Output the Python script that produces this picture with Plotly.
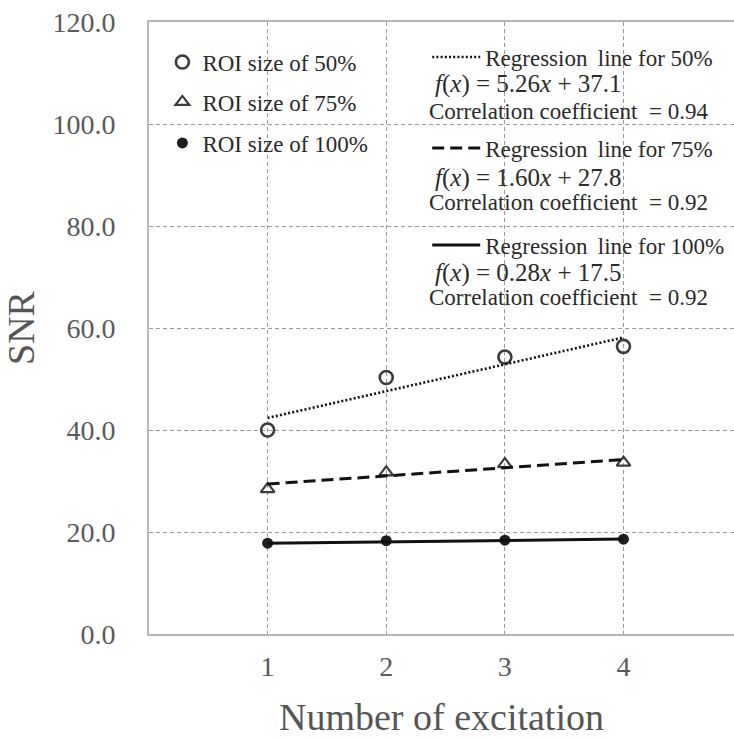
import plotly.graph_objects as go

# Number of excitations (x axis)
nex = [1, 2, 3, 4]

# Measured SNR for each ROI size
snr_50 = [40.0, 50.3, 54.3, 56.4]
snr_75 = [28.4, 31.7, 33.3, 33.6]
snr_100 = [17.8, 18.3, 18.4, 18.6]

# Linear regression results: (slope, intercept, correlation coefficient)
reg_50 = (5.26, 37.1, 0.94)
reg_75 = (1.60, 27.8, 0.92)
reg_100 = (0.28, 17.5, 0.92)

y_ticks = [0, 20, 40, 60, 80, 100, 120]
x_ticks = [1, 2, 3, 4]

SERIF = "Liberation Serif, Times New Roman, serif"
W, H = 734, 738
L, R, T, B = 148.6, 0, 22, 104
PW, PH = W - L - R, H - T - B


def px(xp):
    return (xp - L) / PW


def py(yp):
    return (H - B - yp) / PH


def reg_line(coef):
    a, b, _ = coef
    xs = [nex[0], nex[-1]]
    return xs, [a * v + b for v in xs]


fig = go.Figure()

marker_line = "#3c3c3c"
fig.add_trace(go.Scatter(
    x=nex, y=snr_50, mode="markers", name="ROI size of 50%", legend="legend",
    marker=dict(symbol="circle-open", size=13, color=marker_line, line=dict(width=2.6, color=marker_line)),
))
fig.add_trace(go.Scatter(
    x=nex, y=snr_75, mode="markers", name="ROI size of 75%", legend="legend2",
    marker=dict(symbol="triangle-up-open", size=12, color=marker_line, line=dict(width=2.2, color=marker_line)),
))
fig.add_trace(go.Scatter(
    x=nex, y=snr_100, mode="markers", name="ROI size of 100%", legend="legend3",
    marker=dict(symbol="circle", size=11, color="#1e1e1e"),
))

line_styles = [
    (reg_50, "50%", dict(color="#111111", width=2.6, dash="2px,2.2px"), "legend4"),
    (reg_75, "75%", dict(color="#111111", width=3, dash="12px,6px"), "legend5"),
    (reg_100, "100%", dict(color="#111111", width=3), "legend6"),
]
for coef, lab, ls, lg in line_styles:
    xs, ys = reg_line(coef)
    fig.add_trace(go.Scatter(
        x=xs, y=ys, mode="lines", name=f"Regression\u2009 line for {lab}",
        line=ls, legend=lg,
    ))

legend_font = dict(family=SERIF, size=23, color="#2a2a2a")


def legend_at(xp, yp, itemwidth=30):
    return dict(
        x=px(xp), y=py(yp), xanchor="left", yanchor="middle",
        bgcolor="rgba(0,0,0,0)", borderwidth=0, font=legend_font,
        itemwidth=itemwidth, itemclick=False, itemdoubleclick=False,
    )


# White boxes behind the legend blocks (covering the grid)
shapes = [
    dict(type="rect", xref="paper", yref="paper", layer="between",
         x0=px(165), x1=px(368), y0=py(162), y1=py(40),
         fillcolor="white", line=dict(width=0)),
    dict(type="rect", xref="paper", yref="paper", layer="between",
         x0=px(421), x1=1.0, y0=py(308), y1=py(38),
         fillcolor="white", line=dict(width=0)),
]

annotations = []
eq_rows = [(reg_50, 84, 111), (reg_75, 178, 203), (reg_100, 273, 298)]
for (a, b, r), y_eq, y_cc in eq_rows:
    annotations.append(dict(
        xref="paper", yref="paper", x=px(433), y=py(y_eq), xanchor="left", yanchor="middle",
        text=f"<i>f</i>(<i>x</i>) = {a:.2f}<i>x</i> + {b:.1f}", showarrow=False,
        font=dict(family=SERIF, size=25, color="#2a2a2a"),
    ))
    annotations.append(dict(
        xref="paper", yref="paper", x=px(427), y=py(y_cc), xanchor="left", yanchor="middle",
        text=f"Correlation coefficient\u00a0 = {r:.2f}", showarrow=False,
        font=legend_font,
    ))

fig.update_layout(
    width=W, height=H,
    margin=dict(l=L, r=R, t=T, b=B, pad=0),
    paper_bgcolor="white", plot_bgcolor="white",
    showlegend=True,
    legend=legend_at(162, 62),
    legend2=legend_at(162, 102),
    legend3=legend_at(162, 143),
    legend4=legend_at(427, 57, 48),
    legend5=legend_at(427, 148, 48),
    legend6=legend_at(427, 245, 48),
    shapes=shapes,
    annotations=annotations,
    xaxis=dict(
        range=[0, (W - L) / (386 - 267.3)],
        tickvals=x_ticks, ticktext=[str(v) for v in x_ticks],
        showgrid=True, gridcolor="#9a9a9a", gridwidth=1, griddash="4px,3px",
        showline=True, linecolor="#b8b8b8", linewidth=2, mirror=True,
        ticks="", ticklabelstandoff=6, zeroline=False,
        tickfont=dict(family=SERIF, size=28, color="#5a5a5a"),
        title=dict(text="Number of excitation", standoff=26,
                   font=dict(family=SERIF, size=38, color="#555555")),
    ),
    yaxis=dict(
        range=[0, 120],
        tickvals=y_ticks, ticktext=[f"{v:.1f}" for v in y_ticks],
        showgrid=True, gridcolor="#9a9a9a", gridwidth=1, griddash="4px,3px",
        showline=True, linecolor="#b8b8b8", linewidth=2, mirror=False,
        ticks="", ticklabelstandoff=26, zeroline=False,
        tickfont=dict(family=SERIF, size=28, color="#5a5a5a"),
        title=dict(text="SNR", standoff=17,
                   font=dict(family=SERIF, size=38, color="#555555")),
    ),
)

fig.write_html("out.html")
